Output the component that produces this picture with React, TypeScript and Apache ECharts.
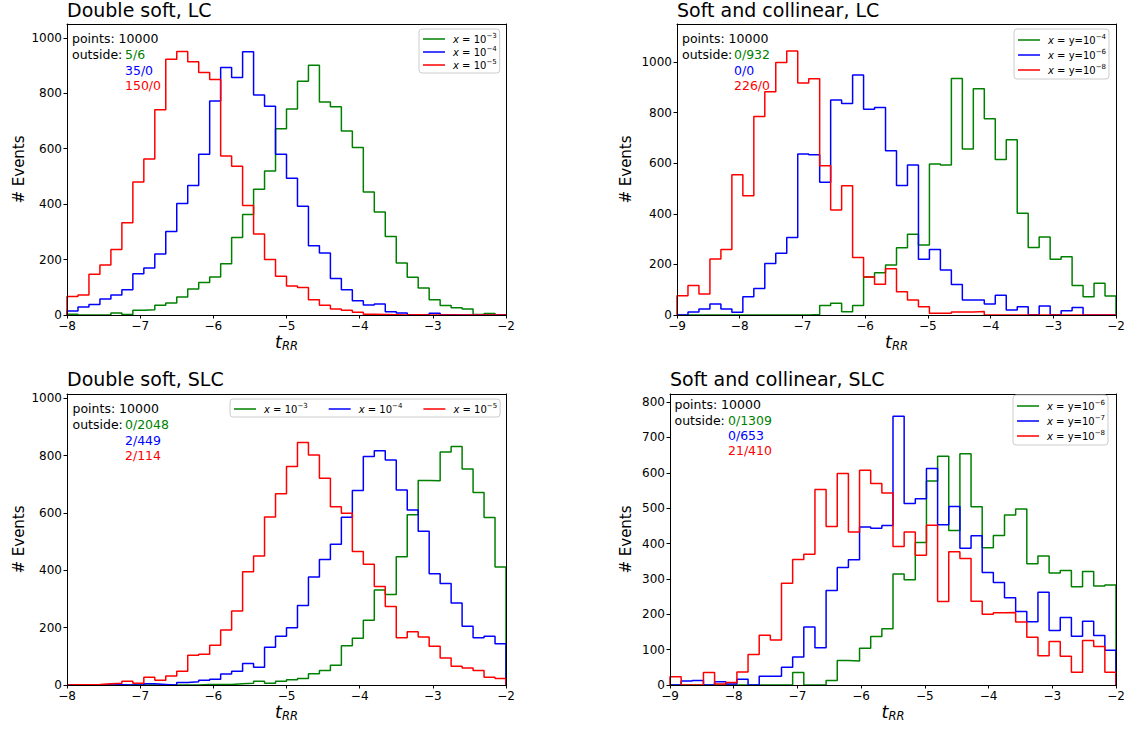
import React, { useEffect, useRef } from "react";
import * as echarts from "echarts";

const FONT = "DejaVu Sans";
const GREEN = "#008000";
const BLUE = "#0000ff";
const RED = "#ff0000";

// ---------- titles ----------
const titles = ["Double soft, LC", "Soft and collinear, LC", "Double soft, SLC", "Soft and collinear, SLC"];

// ---------- binning (40 bins) ----------
const binsDS = { min: -8, max: -2, n: 40 };
const binsSC = { min: -9, max: -2, n: 40 };

// ---------- tick values ----------
const xTicksDS = [-8, -7, -6, -5, -4, -3, -2];
const xTicksSC = [-9, -8, -7, -6, -5, -4, -3, -2];
const yTicks1 = [0, 200, 400, 600, 800, 1000];
const yTicks2 = [0, 200, 400, 600, 800, 1000];
const yTicks3 = [0, 200, 400, 600, 800, 1000];
const yTicks4 = [0, 100, 200, 300, 400, 500, 600, 700, 800];
const yMax = [1050, 1150, 1015, 823];

// ---------- Double soft, LC ----------
const ds_lc_x1e3 = [3,0,0,0,7,2,17,19,35,43,65,94,117,137,185,280,363,454,520,672,743,843,901,769,751,664,604,444,372,283,188,136,97,55,34,26,22,2,5,0];
const ds_lc_x1e4 = [14,29,38,58,72,91,149,170,220,301,402,467,580,772,893,857,950,794,753,580,493,392,250,224,132,91,51,36,40,12,7,1,1,6,1,0,0,0,0,0];
const ds_lc_x1e5 = [67,72,147,180,236,333,480,563,741,923,951,914,875,850,574,537,395,292,200,140,105,99,55,35,22,17,10,3,2,1,0,1,0,0,0,0,0,0,0,0];

// ---------- Soft and collinear, LC ----------
const sc_lc_1e4 = [0,0,0,0,0,0,0,0,0,0,0,0,2,38,46,13,38,150,167,198,266,319,277,597,593,935,656,894,776,615,693,402,267,308,220,230,117,72,125,75];
const sc_lc_1e6 = [1,12,24,43,24,11,72,105,204,244,306,636,633,525,850,836,948,813,820,649,512,593,220,259,178,121,59,59,43,78,20,33,1,36,1,17,30,0,0,0];
const sc_lc_1e8 = [76,117,83,221,259,554,471,784,882,998,1043,917,934,590,415,511,227,150,122,183,92,59,33,7,7,12,12,14,0,0,0,0,0,0,0,0,0,0,0,0];

// ---------- Double soft, SLC ----------
const ds_slc_x1e3 = [0,0,0,0,0,0,0,0,0,0,0,0,2,2,2,4,6,13,6,13,18,23,39,51,69,137,163,226,331,316,447,594,713,712,813,832,753,671,584,412];
const ds_slc_x1e4 = [0,0,1,0,1,0,1,4,2,0,9,11,17,20,38,48,75,62,132,170,200,277,377,438,491,585,678,797,817,785,680,610,536,388,354,286,205,165,170,144];
const ds_slc_x1e5 = [1,1,2,4,6,13,6,27,17,31,48,104,107,139,192,258,395,450,586,667,762,846,802,721,622,599,466,421,344,274,165,186,167,135,94,65,59,51,27,23];

// ---------- Soft and collinear, SLC ----------
const sc_slc_1e6 = [0,0,0,0,0,0,0,0,0,0,0,35,0,0,13,69,68,104,137,159,314,298,403,577,647,437,654,504,388,423,481,498,343,365,317,324,278,321,280,283];
const sc_slc_1e7 = [0,11,13,0,9,3,16,0,25,25,50,79,164,105,267,332,354,447,443,451,760,513,527,612,453,505,387,422,318,290,247,208,179,262,154,191,138,180,140,98];
const sc_slc_1e8 = [23,0,0,35,3,7,37,86,141,127,288,355,370,553,448,598,433,607,570,543,392,433,367,452,236,377,358,237,200,204,205,178,135,83,123,81,36,126,109,36];

// ---------- legend labels ----------
const legendDS = ["x = 10^−3", "x = 10^−4", "x = 10^−5"];
const legendSC_LC = ["x = y=10^−4", "x = y=10^−6", "x = y=10^−8"];
const legendSC_SLC = ["x = y=10^−6", "x = y=10^−7", "x = y=10^−8"];

// ---------- annotation texts ----------
const pointsText = "points: 10000";
const outside1 = ["5/6", "35/0", "150/0"];
const outside2 = ["0/932", "0/0", "226/0"];
const outside3 = ["0/2048", "2/449", "2/114"];
const outside4 = ["0/1309", "0/653", "21/410"];

const colors = [GREEN, BLUE, RED];

function stepData(min: number, max: number, counts: number[]) {
  const w = (max - min) / counts.length;
  const pts: number[][] = [[min, 0]];
  counts.forEach((c, i) => pts.push([min + i * w, c]));
  pts.push([max, counts[counts.length - 1]]);
  pts.push([max, 0]);
  return pts;
}

function legendRich(label: string) {
  const [base, exp] = label.split("^");
  const rest = base.slice(1);
  return `{i|x}{n|${rest}}{s|${exp}}`;
}

const fmtMinus = (v: number) => (v < 0 ? "\u2212" + Math.abs(v) : String(v));
const fmtPlain = (v: number) => String(v);

export default function App() {
  const ref = useRef<HTMLDivElement>(null);
  useEffect(() => {
    if (!ref.current) return;
    const chart = echarts.init(ref.current, undefined, { renderer: "svg" });

    const panels = [
      { grid: { left: 67, top: 24, width: 439, height: 291 }, bins: binsDS, xt: xTicksDS, yt: yTicks1, ymax: yMax[0], data: [ds_lc_x1e3, ds_lc_x1e4, ds_lc_x1e5], labels: legendDS, out: outside1, nameGap: 41,
        ann: { x0: 72, vx: 125, ys: [38.5, 54.5, 70, 85] },
        legend: { left: 419, top: 29, orient: "vertical", itemGap: 1, padding: [3, 3, 3, 4] } },
      { grid: { left: 677, top: 24, width: 439, height: 291 }, bins: binsSC, xt: xTicksSC, yt: yTicks2, ymax: yMax[1], data: [sc_lc_1e4, sc_lc_1e6, sc_lc_1e8], labels: legendSC_LC, out: outside2, nameGap: 44,
        ann: { x0: 682, vx: 734, ys: [38.5, 54.5, 70, 85] },
        legend: { left: 1014, top: 29, orient: "vertical", itemGap: 3, padding: [4, 3, 4, 4] } },
      { grid: { left: 67, top: 394, width: 439, height: 291 }, bins: binsDS, xt: xTicksDS, yt: yTicks3, ymax: yMax[2], data: [ds_slc_x1e3, ds_slc_x1e4, ds_slc_x1e5], labels: legendDS, out: outside3, nameGap: 41,
        ann: { x0: 72.5, vx: 125, ys: [408.5, 424.5, 440, 455] },
        legend: { left: 230, top: 399, orient: "horizontal", itemGap: 21, padding: [3, 3, 3, 4] } },
      { grid: { left: 670, top: 394, width: 446, height: 291 }, bins: binsSC, xt: xTicksSC, yt: yTicks4, ymax: yMax[3], data: [sc_slc_1e6, sc_slc_1e7, sc_slc_1e8], labels: legendSC_SLC, out: outside4, nameGap: 37,
        ann: { x0: 674.5, vx: 728, ys: [404, 420, 435.5, 450.5] },
        legend: { left: 1013, top: 395, orient: "vertical", itemGap: 3, padding: [4, 3, 4, 4] } },
    ];

    const grids: any[] = [];
    const xAxes: any[] = [];
    const yAxes: any[] = [];
    const xFrame: any[] = [];
    const yFrame: any[] = [];
    const series: any[] = [];
    const legends: any[] = [];
    const titleOpts: any[] = [];
    const graphics: any[] = [];
    const nameMap: Record<string, string> = {};

    panels.forEach((p, k) => {
      grids.push({ ...p.grid, show: false });
      xAxes.push({
        type: "value", gridIndex: k, min: p.bins.min, max: p.bins.max, interval: 1, z: 5,
        name: "{t|t}{s|RR}", nameLocation: "middle", nameGap: 16,
        nameTextStyle: { color: "#000", rich: {
          t: { fontSize: 17.5, fontStyle: "italic", fontFamily: FONT, lineHeight: 20, color: "#000" },
          s: { fontSize: 11.5, fontStyle: "italic", fontFamily: FONT, lineHeight: 6, verticalAlign: "bottom", color: "#000" } } },
        axisLine: { show: true, onZero: false, lineStyle: { color: "#000", width: 1 } },
        axisTick: { show: true, length: 3.5, lineStyle: { color: "#000" }, customValues: p.xt },
        axisLabel: { color: "#000", fontSize: 12, lineHeight: 10, fontFamily: FONT, margin: 6, formatter: fmtMinus, customValues: p.xt },
        splitLine: { show: false },
      });
      yAxes.push({
        type: "value", gridIndex: k, min: 0, max: p.ymax, z: 5,
        name: "# Events", nameLocation: "middle", nameGap: p.nameGap,
        nameTextStyle: { color: "#000", fontSize: 15, fontFamily: FONT },
        axisLine: { show: true, onZero: false, lineStyle: { color: "#000", width: 1 } },
        axisTick: { show: true, length: 3.5, lineStyle: { color: "#000" }, customValues: p.yt },
        axisLabel: { color: "#000", fontSize: 12, lineHeight: 10, fontFamily: FONT, margin: 5, formatter: fmtPlain, customValues: p.yt },
        splitLine: { show: false },
      });
      // frame (top and right spines), drawn above the histogram lines
      xFrame.push({
        type: "value", gridIndex: k, position: "top", min: p.bins.min, max: p.bins.max, z: 5,
        axisLine: { show: true, onZero: false, lineStyle: { color: "#000", width: 1 } },
        axisTick: { show: false }, axisLabel: { show: false }, splitLine: { show: false },
      });
      yFrame.push({
        type: "value", gridIndex: k, position: "right", min: 0, max: p.ymax, z: 5,
        axisLine: { show: true, onZero: false, lineStyle: { color: "#000", width: 1 } },
        axisTick: { show: false }, axisLabel: { show: false }, splitLine: { show: false },
      });
      const names: string[] = [];
      p.data.forEach((counts, j) => {
        const nm = `p${k}_${j}`;
        names.push(nm);
        nameMap[nm] = legendRich(p.labels[j]);
        series.push({
          type: "line", name: nm, xAxisIndex: k, yAxisIndex: k, step: "end", symbol: "none", clip: true,
          data: stepData(p.bins.min, p.bins.max, counts),
          lineStyle: { color: colors[j], width: 1.5 }, itemStyle: { color: colors[j] },
        });
      });
      legends.push({
        ...p.legend, data: names, icon: "rect", itemWidth: 22, itemHeight: 1.5, z: 10,
        backgroundColor: "rgba(255,255,255,0.8)", borderColor: "#cccccc", borderWidth: 1, borderRadius: 3,
        formatter: (n: string) => nameMap[n], selectedMode: false,
        textStyle: { color: "#000", fontFamily: FONT, rich: {
          i: { fontSize: 10, fontStyle: "italic", fontFamily: FONT, lineHeight: 14, color: "#000", padding: [0, 0, 0, 3] },
          n: { fontSize: 10, fontFamily: FONT, lineHeight: 14, color: "#000" },
          s: { fontSize: 7, fontFamily: FONT, lineHeight: 7, verticalAlign: "top", color: "#000" } } },
      });
      titleOpts.push({
        text: titles[k], left: p.grid.left, top: k < 2 ? 0 : 369, padding: 0,
        textStyle: { fontSize: 19, fontWeight: "normal", color: "#000", fontFamily: FONT },
      });
      const font = `12.5px "${FONT}"`;
      graphics.push({ type: "text", x: p.ann.x0, y: p.ann.ys[0], style: { text: pointsText, fill: "#000", font, verticalAlign: "middle" } });
      graphics.push({ type: "text", x: p.ann.x0, y: p.ann.ys[1], style: { text: "outside:", fill: "#000", font, verticalAlign: "middle" } });
      p.out.forEach((t, j) => {
        graphics.push({ type: "text", x: p.ann.vx, y: p.ann.ys[1 + j], style: { text: t, fill: colors[j], font, verticalAlign: "middle" } });
      });
    });

    chart.setOption({
      animation: false,
      backgroundColor: "#fff",
      textStyle: { fontFamily: FONT },
      title: titleOpts,
      grid: grids,
      xAxis: [...xAxes, ...xFrame],
      yAxis: [...yAxes, ...yFrame],
      legend: legends,
      series,
      graphic: graphics,
    });
    return () => chart.dispose();
  }, []);

  return <div ref={ref} style={{ position: "fixed", left: 0, top: 0, width: 1133, height: 731, background: "#fff" }} />;
}
